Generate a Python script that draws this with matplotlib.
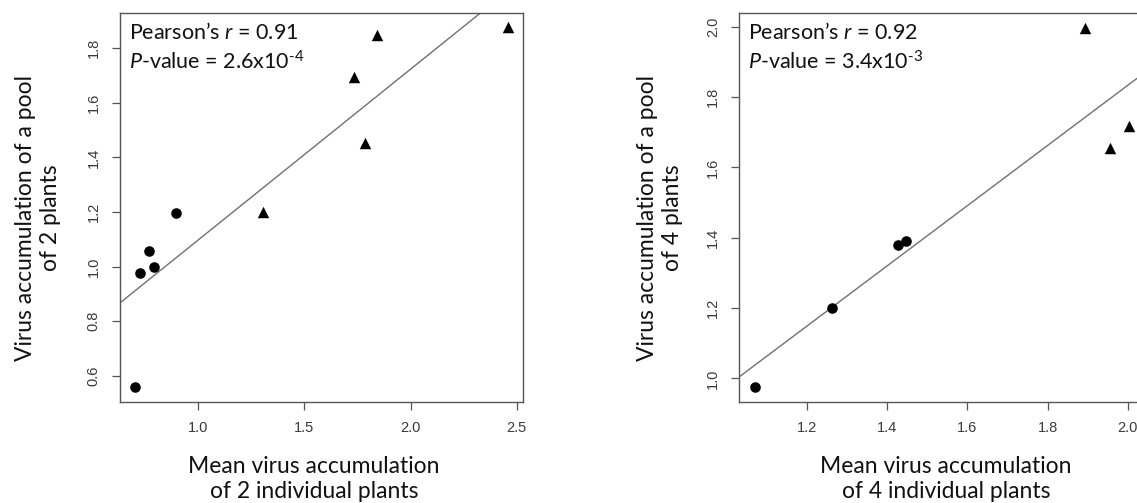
import numpy as np
import matplotlib.pyplot as plt

# 2 plants panel
pool2_circle_x = [0.702, 0.725, 0.769, 0.793, 0.895]
pool2_circle_y = [0.560, 0.978, 1.058, 1.000, 1.196]
pool2_tri_x = [1.306, 1.734, 1.786, 1.844, 2.460]
pool2_tri_y = [1.200, 1.694, 1.451, 1.849, 1.877]

# 4 plants panel
pool4_circle_x = [1.068, 1.262, 1.427, 1.446]
pool4_circle_y = [0.975, 1.200, 1.380, 1.392]
pool4_tri_x = [1.893, 1.956, 2.003]
pool4_tri_y = [1.997, 1.654, 1.718]

stats2 = ["Pearson\u2019s $r$ = 0.91", r"$P$-value = 2.6x10$^{\text{-}4}$"]
stats4 = ["Pearson\u2019s $r$ = 0.92", r"$P$-value = 3.4x10$^{\text{-}3}$"]

W, H = 1137, 503
TEXT_FONT = "Lato"
TICK_FONT = "Liberation Sans"
GREY = "#555555"

plt.rcParams["mathtext.fontset"] = "custom"
plt.rcParams["mathtext.rm"] = TEXT_FONT
plt.rcParams["mathtext.it"] = TEXT_FONT + ":italic"

fig = plt.figure(figsize=(W / 100, H / 100), dpi=100)


def px_axes(x0, x1, y0, y1):
    # pixel box -> figure fraction
    return fig.add_axes([x0 / W, 1 - y1 / H, (x1 - x0) / W, (y1 - y0) / H])


def draw_panel(ax, cx, cy, tx, ty, xlim, ylim, xticks, yticks, stats):
    xs = np.array(cx + tx)
    ys = np.array(cy + ty)
    slope, icpt = np.polyfit(xs, ys, 1)
    ax.axline((0, icpt), slope=slope, color="#707070", lw=1.0, zorder=1)
    ax.scatter(cx, cy, marker="o", s=58, color="black", zorder=3, linewidths=0)
    ax.scatter(tx, ty, marker="^", s=68, color="black", zorder=3, linewidths=0)
    ax.set_xlim(*xlim)
    ax.set_ylim(*ylim)
    ax.set_xticks(xticks)
    ax.set_yticks(yticks)
    ax.set_xticklabels([f"{v:.1f}" for v in xticks])
    ax.set_yticklabels([f"{v:.1f}" for v in yticks], rotation=90, va="center")
    for sp in ax.spines.values():
        sp.set_color(GREY)
        sp.set_linewidth(1.0)
    ax.tick_params(length=6, width=0.9, color=GREY, pad=8, labelsize=10.5,
                   labelcolor="#3a3a3a")
    for lab in ax.get_xticklabels() + ax.get_yticklabels():
        lab.set_family(TICK_FONT)
    ax.annotate(stats[0], xy=(0, 1), xycoords="axes fraction", xytext=(9, -26),
                textcoords="offset pixels", va="baseline", ha="left",
                fontsize=15.5, family=TEXT_FONT, color="#111111")
    ax.annotate(stats[1], xy=(0, 1), xycoords="axes fraction", xytext=(9, -56),
                textcoords="offset pixels", va="baseline", ha="left",
                fontsize=15.5, family=TEXT_FONT, color="#111111")


ax1 = px_axes(120, 523, 13.3, 401.7)
draw_panel(ax1, pool2_circle_x, pool2_circle_y, pool2_tri_x, pool2_tri_y,
           (0.631, 2.53), (0.505, 1.928), [1.0, 1.5, 2.0, 2.5],
           [0.6, 0.8, 1.0, 1.2, 1.4, 1.6, 1.8], stats2)

ax2 = px_axes(739.3, 1150, 13.3, 401.7)
draw_panel(ax2, pool4_circle_x, pool4_circle_y, pool4_tri_x, pool4_tri_y,
           (1.030, 2.056), (0.934, 2.038), [1.2, 1.4, 1.6, 1.8, 2.0],
           [1.0, 1.2, 1.4, 1.6, 1.8, 2.0], stats4)

label_kw = dict(fontsize=16.5, family=TEXT_FONT, color="#111111",
                ha="center", va="center", linespacing=1.2)
fig.text(314 / W, 1 - 479 / H, "Mean virus accumulation\nof 2 individual plants",
         **label_kw)
fig.text(946 / W, 1 - 479 / H, "Mean virus accumulation\nof 4 individual plants",
         **label_kw)
fig.text(38 / W, 1 - 218 / H, "Virus accumulation of a pool\nof 2 plants",
         rotation=90, **label_kw)
fig.text(660 / W, 1 - 218 / H, "Virus accumulation of a pool\nof 4 plants",
         rotation=90, **label_kw)

fig.savefig("out.png", dpi=100)
